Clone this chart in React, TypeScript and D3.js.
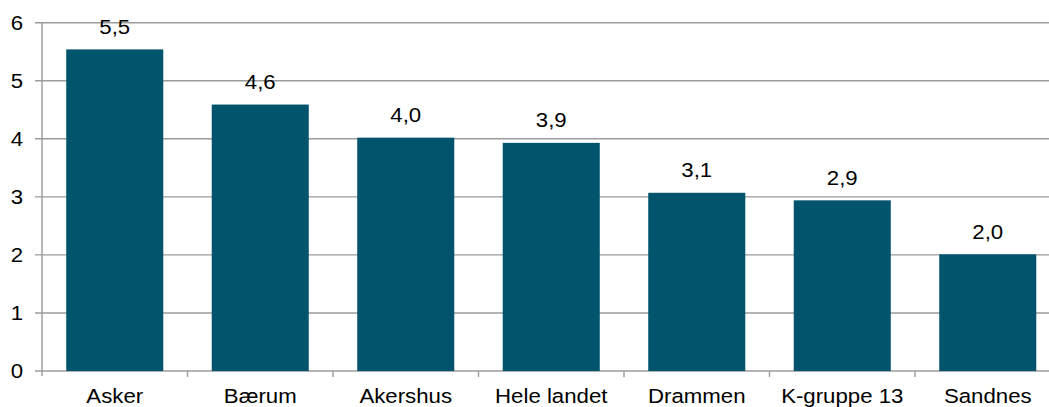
import React from "react";
import * as d3 from "d3";

const categories = ["Asker", "Bærum", "Akershus", "Hele landet", "Drammen", "K-gruppe 13", "Sandnes"];
const values = [5.54, 4.59, 4.02, 3.93, 3.07, 2.94, 2.01];
const yTicks = [0, 1, 2, 3, 4, 5, 6];

const W = 1049;
const H = 407;
const left = 42;
const right = 1060.5;
const top = 22.7;
const bottom = 371;
const FONT = "'Liberation Sans', Arial, sans-serif";
const SX = 1.14;
const FS = 19.5;
const gridColor = "#9b9b9b";
const barColor = "#02546c";

export default function App() {
  const x = d3.scaleBand<string>().domain(categories).range([left, right]).paddingInner(0.333).paddingOuter(0.1665);
  const xb = d3.scaleBand<string>().domain(categories).range([left, right]).padding(0);
  const y = d3.scaleLinear().domain([0, 6]).range([bottom, top]);
  const fmt = (v: number) => v.toFixed(1).replace(".", ",");

  return (
    <svg width={W} height={H} style={{ position: "absolute", left: 0, top: 0, background: "#fff" }} fontFamily={FONT}>
      {yTicks.map((t) => (
        <g key={t}>
          <line x1={35} x2={right} y1={y(t)} y2={y(t)} stroke={gridColor} strokeWidth={1.4} />
          <text transform={`translate(23,${y(t) + 7}) scale(${SX},1)`} textAnchor="end" fontSize={FS} fill="#000">
            {t}
          </text>
        </g>
      ))}
      <line x1={left} x2={left} y1={top} y2={bottom + 5} stroke={gridColor} strokeWidth={1.4} />
      {categories.map((c) => (
        <line key={"t" + c} x1={xb(c)! + xb.bandwidth()} x2={xb(c)! + xb.bandwidth()} y1={bottom} y2={bottom + 6} stroke={gridColor} strokeWidth={1.4} />
      ))}
      {categories.map((c, i) => (
        <rect key={c} x={x(c)} y={y(values[i])} width={x.bandwidth()} height={bottom - y(values[i])} fill={barColor} />
      ))}
      {categories.map((c, i) => {
        const cx = x(c)! + x.bandwidth() / 2;
        return (
          <g key={"l" + c}>
            <text transform={`translate(${cx},${y(values[i]) - 15.5}) scale(${SX},1)`} textAnchor="middle" fontSize={FS} fill="#000">
              {fmt(values[i])}
            </text>
            <text transform={`translate(${cx},${bottom + 32.3}) scale(${SX},1)`} textAnchor="middle" fontSize={FS} fill="#000">
              {c}
            </text>
          </g>
        );
      })}
    </svg>
  );
}
